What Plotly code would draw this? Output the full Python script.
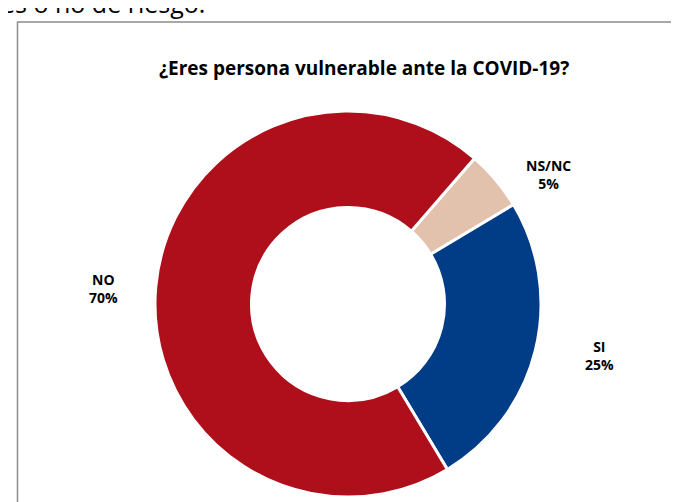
import math
import plotly.graph_objects as go

# Data
labels = ["NS/NC", "SI", "NO"]
values = [5, 25, 70]
colors = ["#E2C2AC", "#003D86", "#AE0F1B"]
title_text = "¿Eres persona vulnerable ante la COVID-19?"
doc_text = "es o no de riesgo."

W, H = 679, 502
cx, cy, R = 340, 296, 193          # pie centre / radius in px
start_angle = 41                   # degrees clockwise from 12 o'clock
lab_rx, lab_ry = 252, 205          # label radii in px
lab_cx, lab_cy = 347, 298          # centre used for labels

fig = go.Figure()
fig.add_trace(go.Pie(
    labels=labels, values=values, sort=False, direction="clockwise",
    rotation=start_angle, hole=0.5,
    marker=dict(colors=colors, line=dict(color="white", width=3)),
    textinfo="none", hoverinfo="label+percent", showlegend=False,
    domain=dict(x=[(cx - R) / W, (cx + R) / W], y=[1 - (cy + R) / H, 1 - (cy - R) / H]),
))

annotations = []
total = sum(values)
cum = 0
for lab, v in zip(labels, values):
    mid = start_angle + (cum + v / 2) / total * 360
    cum += v
    th = math.radians(mid)
    px = lab_cx + lab_rx * math.sin(th)
    py = lab_cy - lab_ry * math.cos(th)
    annotations.append(dict(
        x=px / W, y=1 - py / H, xref="paper", yref="paper",
        text=f"<b>{lab}<br>{round(v / total * 100)}%</b>", showarrow=False,
        font=dict(family="Open Sans, Noto Sans, sans-serif", size=14, color="#000000"),
        align="center", xanchor="center", yanchor="middle",
    ))

annotations.append(dict(
    x=356 / W, y=1 - 60 / H, xref="paper", yref="paper",
    text=f"<b>{title_text}</b>", showarrow=False,
    font=dict(family="Open Sans, Noto Sans, sans-serif", size=19, color="#000000"),
    xanchor="center", yanchor="middle",
))
annotations.append(dict(
    x=199 / W, y=1 + 5 / H, xref="paper", yref="paper",
    text=doc_text, showarrow=False,
    font=dict(family="Open Sans, Noto Sans, sans-serif", size=25, color="#000000"),
    xanchor="right", yanchor="middle",
))

fig.update_layout(
    width=W, height=H, margin=dict(l=0, r=0, t=0, b=0),
    paper_bgcolor="white", plot_bgcolor="white",
    annotations=annotations,
    shapes=[dict(type="rect", xref="paper", yref="paper",
                 x0=9.5 / W, x1=1.05, y0=-0.05, y1=1 - 14 / H,
                 line=dict(color="#8C8C8C", width=1.5), fillcolor="rgba(0,0,0,0)")],
)

fig.write_html("out.html")
